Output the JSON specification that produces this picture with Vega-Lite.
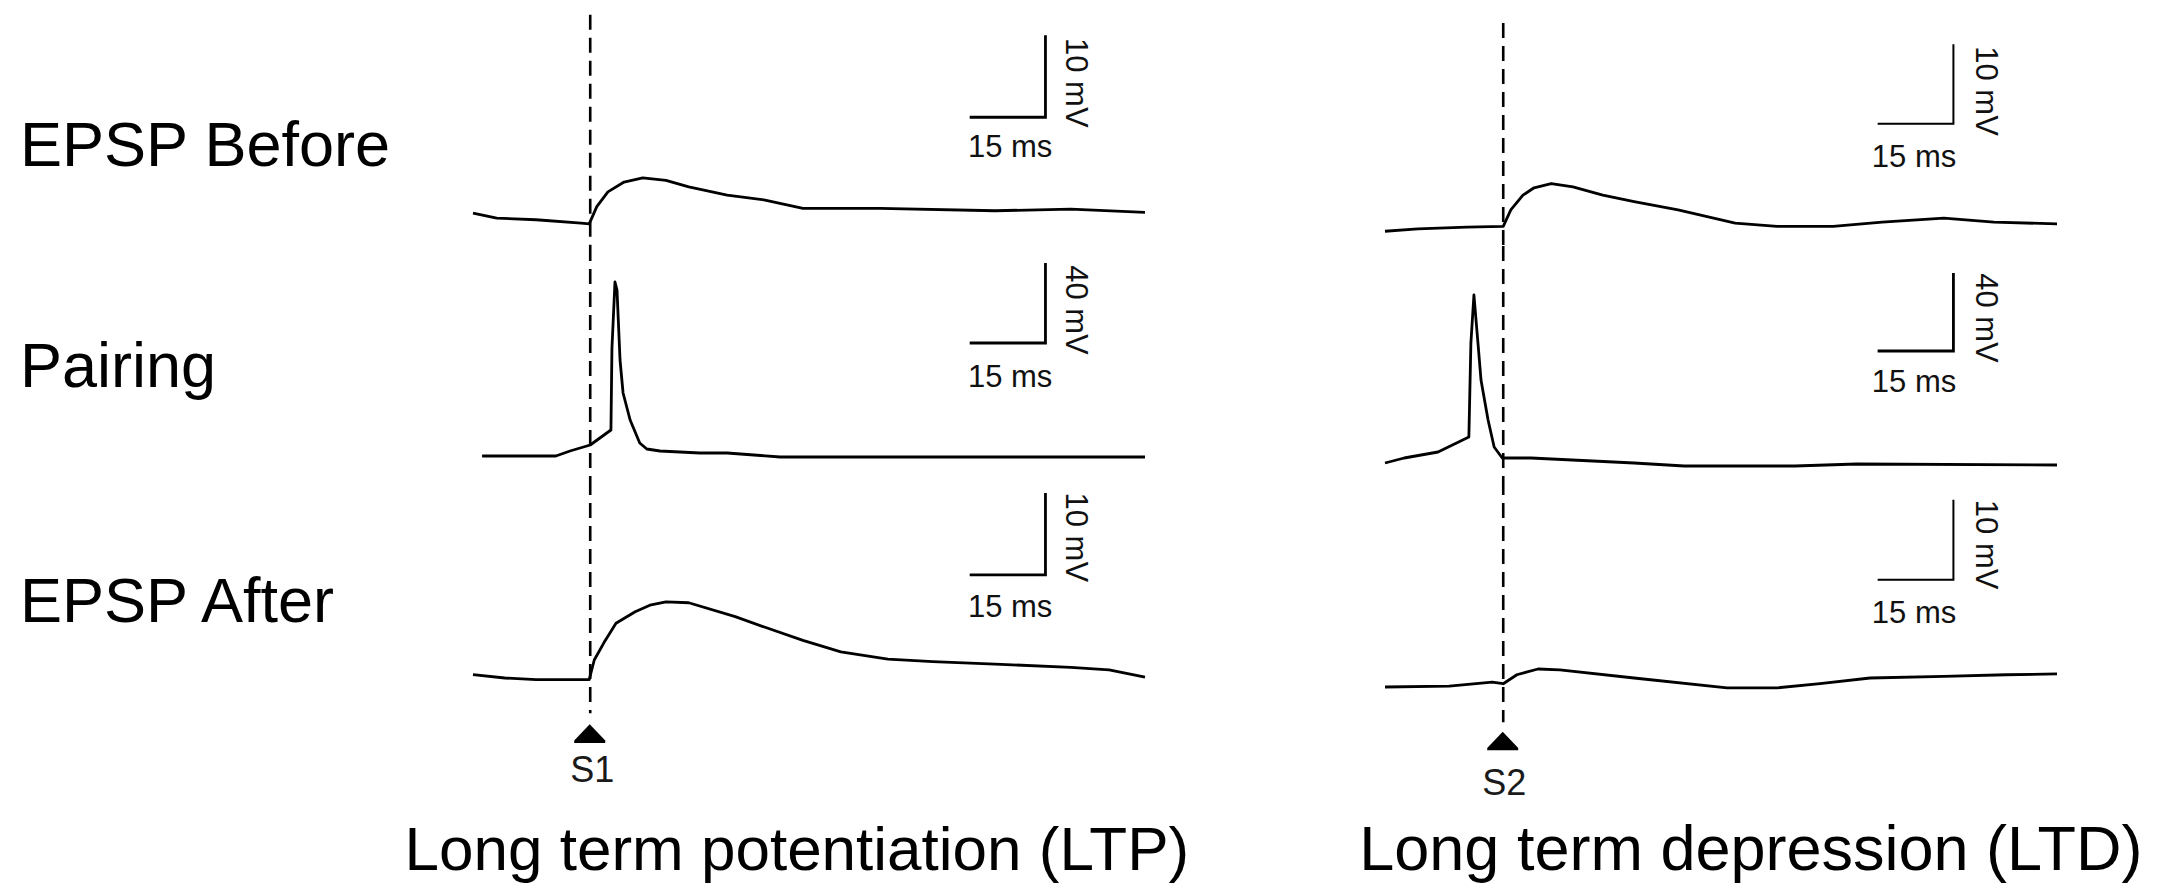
{
  "$schema": "https://vega.github.io/schema/vega-lite/v6.json",
  "background": "white",
  "autosize": {"type": "pad"},
  "padding": {"left": 20, "top": 0, "right": 109, "bottom": 137},
  "config": {"view": {"stroke": null}, "font": "Liberation Sans"},
  "datasets": {
    "rowlabels": [
      {"row": "Before", "label": "EPSP Before", "pos": 0, "v": -58.24},
      {"row": "Pairing", "label": "Pairing", "pos": 0, "v": -31.5},
      {"row": "After", "label": "EPSP After", "pos": 0, "v": -58.36}
    ],
    "titles": [
      {"cond": "LTP", "text": "Long term potentiation (LTP)", "t": 64.1, "v": -88.67},
      {"cond": "LTD", "text": "Long term depression (LTD)", "t": 72.4, "v": -88.67}
    ],
    "traces": [
      {"cond": "LTP", "row": "Before", "t": 0, "v": -64.0},
      {"cond": "LTP", "row": "Before", "t": 4.7, "v": -64.6},
      {"cond": "LTP", "row": "Before", "t": 12.5, "v": -64.8},
      {"cond": "LTP", "row": "Before", "t": 21.4, "v": -65.2},
      {"cond": "LTP", "row": "Before", "t": 23.0, "v": -65.3},
      {"cond": "LTP", "row": "Before", "t": 24.5, "v": -63.2},
      {"cond": "LTP", "row": "Before", "t": 26.7, "v": -61.4},
      {"cond": "LTP", "row": "Before", "t": 29.9, "v": -60.2},
      {"cond": "LTP", "row": "Before", "t": 33.6, "v": -59.7},
      {"cond": "LTP", "row": "Before", "t": 38.2, "v": -60.0},
      {"cond": "LTP", "row": "Before", "t": 42.7, "v": -60.8},
      {"cond": "LTP", "row": "Before", "t": 50.3, "v": -61.8},
      {"cond": "LTP", "row": "Before", "t": 57.8, "v": -62.4},
      {"cond": "LTP", "row": "Before", "t": 65.3, "v": -63.4},
      {"cond": "LTP", "row": "Before", "t": 80.5, "v": -63.4},
      {"cond": "LTP", "row": "Before", "t": 103.3, "v": -63.7},
      {"cond": "LTP", "row": "Before", "t": 118.3, "v": -63.5},
      {"cond": "LTP", "row": "Before", "t": 133, "v": -63.9},

      {"cond": "LTP", "row": "Pairing", "t": 1.8, "v": -66.0},
      {"cond": "LTP", "row": "Pairing", "t": 16.4, "v": -66.0},
      {"cond": "LTP", "row": "Pairing", "t": 19.2, "v": -63.5},
      {"cond": "LTP", "row": "Pairing", "t": 23.2, "v": -60.5},
      {"cond": "LTP", "row": "Pairing", "t": 27.3, "v": -53.0},
      {"cond": "LTP", "row": "Pairing", "t": 27.5, "v": -12.0},
      {"cond": "LTP", "row": "Pairing", "t": 28.1, "v": 21.0},
      {"cond": "LTP", "row": "Pairing", "t": 28.5, "v": 17.0},
      {"cond": "LTP", "row": "Pairing", "t": 29.1, "v": -18.0},
      {"cond": "LTP", "row": "Pairing", "t": 29.7, "v": -34.5},
      {"cond": "LTP", "row": "Pairing", "t": 31.1, "v": -48.0},
      {"cond": "LTP", "row": "Pairing", "t": 33.0, "v": -59.5},
      {"cond": "LTP", "row": "Pairing", "t": 34.4, "v": -62.5},
      {"cond": "LTP", "row": "Pairing", "t": 37.0, "v": -63.5},
      {"cond": "LTP", "row": "Pairing", "t": 44.9, "v": -64.5},
      {"cond": "LTP", "row": "Pairing", "t": 50.3, "v": -64.5},
      {"cond": "LTP", "row": "Pairing", "t": 60.8, "v": -66.5},
      {"cond": "LTP", "row": "Pairing", "t": 133, "v": -66.5},

      {"cond": "LTP", "row": "After", "t": 0, "v": -64.8},
      {"cond": "LTP", "row": "After", "t": 6.3, "v": -65.2},
      {"cond": "LTP", "row": "After", "t": 12.5, "v": -65.4},
      {"cond": "LTP", "row": "After", "t": 23.0, "v": -65.4},
      {"cond": "LTP", "row": "After", "t": 24.0, "v": -63.0},
      {"cond": "LTP", "row": "After", "t": 25.9, "v": -60.9},
      {"cond": "LTP", "row": "After", "t": 28.3, "v": -58.5},
      {"cond": "LTP", "row": "After", "t": 32.1, "v": -57.1},
      {"cond": "LTP", "row": "After", "t": 35.0, "v": -56.3},
      {"cond": "LTP", "row": "After", "t": 38.2, "v": -55.9},
      {"cond": "LTP", "row": "After", "t": 42.7, "v": -56.0},
      {"cond": "LTP", "row": "After", "t": 51.9, "v": -57.7},
      {"cond": "LTP", "row": "After", "t": 57.8, "v": -59.0},
      {"cond": "LTP", "row": "After", "t": 65.3, "v": -60.6},
      {"cond": "LTP", "row": "After", "t": 72.8, "v": -62.0},
      {"cond": "LTP", "row": "After", "t": 82.1, "v": -62.9},
      {"cond": "LTP", "row": "After", "t": 91.0, "v": -63.2},
      {"cond": "LTP", "row": "After", "t": 103.3, "v": -63.5},
      {"cond": "LTP", "row": "After", "t": 118.3, "v": -63.9},
      {"cond": "LTP", "row": "After", "t": 125.9, "v": -64.2},
      {"cond": "LTP", "row": "After", "t": 133, "v": -65.1},

      {"cond": "LTD", "row": "Before", "t": 0, "v": -66.2},
      {"cond": "LTD", "row": "Before", "t": 6.5, "v": -65.9},
      {"cond": "LTD", "row": "Before", "t": 16.2, "v": -65.7},
      {"cond": "LTD", "row": "Before", "t": 23.4, "v": -65.6},
      {"cond": "LTD", "row": "Before", "t": 24.9, "v": -63.6},
      {"cond": "LTD", "row": "Before", "t": 27.3, "v": -61.8},
      {"cond": "LTD", "row": "Before", "t": 29.5, "v": -60.9},
      {"cond": "LTD", "row": "Before", "t": 32.9, "v": -60.4},
      {"cond": "LTD", "row": "Before", "t": 37.2, "v": -60.8},
      {"cond": "LTD", "row": "Before", "t": 43.1, "v": -61.8},
      {"cond": "LTD", "row": "Before", "t": 49.3, "v": -62.6},
      {"cond": "LTD", "row": "Before", "t": 58.0, "v": -63.6},
      {"cond": "LTD", "row": "Before", "t": 69.3, "v": -65.2},
      {"cond": "LTD", "row": "Before", "t": 77.6, "v": -65.6},
      {"cond": "LTD", "row": "Before", "t": 88.7, "v": -65.6},
      {"cond": "LTD", "row": "Before", "t": 98.4, "v": -65.1},
      {"cond": "LTD", "row": "Before", "t": 110.6, "v": -64.6},
      {"cond": "LTD", "row": "Before", "t": 120.5, "v": -65.1},
      {"cond": "LTD", "row": "Before", "t": 133, "v": -65.3},

      {"cond": "LTD", "row": "Pairing", "t": 0, "v": -69.5},
      {"cond": "LTD", "row": "Pairing", "t": 3.8, "v": -67.0},
      {"cond": "LTD", "row": "Pairing", "t": 10.5, "v": -64.0},
      {"cond": "LTD", "row": "Pairing", "t": 16.6, "v": -56.5},
      {"cond": "LTD", "row": "Pairing", "t": 17.0, "v": -9.5},
      {"cond": "LTD", "row": "Pairing", "t": 17.6, "v": 14.5},
      {"cond": "LTD", "row": "Pairing", "t": 18.4, "v": -9.5},
      {"cond": "LTD", "row": "Pairing", "t": 19.0, "v": -28.0},
      {"cond": "LTD", "row": "Pairing", "t": 20.4, "v": -48.0},
      {"cond": "LTD", "row": "Pairing", "t": 21.6, "v": -61.5},
      {"cond": "LTD", "row": "Pairing", "t": 23.2, "v": -67.0},
      {"cond": "LTD", "row": "Pairing", "t": 28.9, "v": -67.0},
      {"cond": "LTD", "row": "Pairing", "t": 49.3, "v": -69.5},
      {"cond": "LTD", "row": "Pairing", "t": 59.2, "v": -71.0},
      {"cond": "LTD", "row": "Pairing", "t": 81.1, "v": -71.0},
      {"cond": "LTD", "row": "Pairing", "t": 93.4, "v": -70.0},
      {"cond": "LTD", "row": "Pairing", "t": 133, "v": -70.5},

      {"cond": "LTD", "row": "After", "t": 0, "v": -66.3},
      {"cond": "LTD", "row": "After", "t": 12.7, "v": -66.2},
      {"cond": "LTD", "row": "After", "t": 21.2, "v": -65.7},
      {"cond": "LTD", "row": "After", "t": 23.4, "v": -65.9},
      {"cond": "LTD", "row": "After", "t": 26.1, "v": -64.8},
      {"cond": "LTD", "row": "After", "t": 30.3, "v": -64.1},
      {"cond": "LTD", "row": "After", "t": 34.6, "v": -64.2},
      {"cond": "LTD", "row": "After", "t": 49.3, "v": -65.2},
      {"cond": "LTD", "row": "After", "t": 67.7, "v": -66.4},
      {"cond": "LTD", "row": "After", "t": 77.6, "v": -66.4},
      {"cond": "LTD", "row": "After", "t": 86.1, "v": -65.9},
      {"cond": "LTD", "row": "After", "t": 96.0, "v": -65.2},
      {"cond": "LTD", "row": "After", "t": 110.6, "v": -65.0},
      {"cond": "LTD", "row": "After", "t": 122.9, "v": -64.8},
      {"cond": "LTD", "row": "After", "t": 133, "v": -64.7}
    ],
    "bars": [
      {"cond": "LTP", "row": "Before", "i": 1, "t": 98.3, "v": -52.3},
      {"cond": "LTP", "row": "Before", "i": 2, "t": 113.3, "v": -52.3},
      {"cond": "LTP", "row": "Before", "i": 3, "t": 113.3, "v": -42.3},
      {"cond": "LTP", "row": "Pairing", "i": 1, "t": 98.3, "v": -9.5},
      {"cond": "LTP", "row": "Pairing", "i": 2, "t": 113.3, "v": -9.5},
      {"cond": "LTP", "row": "Pairing", "i": 3, "t": 113.3, "v": 30.5},
      {"cond": "LTP", "row": "After", "i": 1, "t": 98.3, "v": -52.6},
      {"cond": "LTP", "row": "After", "i": 2, "t": 113.3, "v": -52.6},
      {"cond": "LTP", "row": "After", "i": 3, "t": 113.3, "v": -42.6},
      {"cond": "LTD", "row": "Before", "i": 1, "t": 97.5, "v": -53.1},
      {"cond": "LTD", "row": "Before", "i": 2, "t": 112.5, "v": -53.1},
      {"cond": "LTD", "row": "Before", "i": 3, "t": 112.5, "v": -43.4},
      {"cond": "LTD", "row": "Pairing", "i": 1, "t": 97.5, "v": -13.5},
      {"cond": "LTD", "row": "Pairing", "i": 2, "t": 112.5, "v": -13.5},
      {"cond": "LTD", "row": "Pairing", "i": 3, "t": 112.5, "v": 25.5},
      {"cond": "LTD", "row": "After", "i": 1, "t": 97.5, "v": -53.2},
      {"cond": "LTD", "row": "After", "i": 2, "t": 112.5, "v": -53.2},
      {"cond": "LTD", "row": "After", "i": 3, "t": 112.5, "v": -43.4}
    ],
    "notes": [
      {"cond": "LTP", "row": "Before", "kind": "mV", "text": "10 mV", "t": 119.1, "v": -48.1},
      {"cond": "LTP", "row": "Before", "kind": "ms", "text": "15 ms", "t": 106.3, "v": -57.1},
      {"cond": "LTP", "row": "Pairing", "kind": "mV", "text": "40 mV", "t": 119.1, "v": 7.0},
      {"cond": "LTP", "row": "Pairing", "kind": "ms", "text": "15 ms", "t": 106.3, "v": -31.5},
      {"cond": "LTP", "row": "After", "kind": "mV", "text": "10 mV", "t": 119.1, "v": -48.0},
      {"cond": "LTP", "row": "After", "kind": "ms", "text": "15 ms", "t": 106.3, "v": -57.7},
      {"cond": "LTD", "row": "Before", "kind": "mV", "text": "10 mV", "t": 118.7, "v": -49.1},
      {"cond": "LTD", "row": "Before", "kind": "ms", "text": "15 ms", "t": 104.7, "v": -58.4},
      {"cond": "LTD", "row": "Pairing", "kind": "mV", "text": "40 mV", "t": 118.7, "v": 3.0},
      {"cond": "LTD", "row": "Pairing", "kind": "ms", "text": "15 ms", "t": 104.7, "v": -34.0},
      {"cond": "LTD", "row": "After", "kind": "mV", "text": "10 mV", "t": 118.7, "v": -48.9},
      {"cond": "LTD", "row": "After", "kind": "ms", "text": "15 ms", "t": 104.7, "v": -58.5}
    ],
    "dash": [
      {"cond": "LTP", "row": "Before", "t": 23.2, "top": -39.8, "bottom": -68},
      {"cond": "LTP", "row": "Pairing", "t": 23.2, "top": 39, "bottom": -78},
      {"cond": "LTP", "row": "After", "t": 23.2, "top": -41, "bottom": -69.5},
      {"cond": "LTD", "row": "Before", "t": 23.4, "top": -40.8, "bottom": -68},
      {"cond": "LTD", "row": "Pairing", "t": 23.4, "top": 39, "bottom": -78},
      {"cond": "LTD", "row": "After", "t": 23.4, "top": -41, "bottom": -70.6}
    ],
    "stim": [
      {"cond": "LTP", "label": "S1", "t": 23.1, "v": -72.0, "lt": 23.6, "lv": -77.9},
      {"cond": "LTD", "label": "S2", "t": 23.3, "v": -72.9, "lt": 23.6, "lv": -79.5}
    ]
  },
  "bounds": "flush",
  "columns": 3,
  "spacing": {"row": 0, "column": 240},
  "concat": [
    {
      "width": 213, "height": 246,
      "data": {"name": "rowlabels"}, "transform": [{"filter": "datum.row === 'Before'"}],
      "mark": {"type": "text", "align": "left", "baseline": "alphabetic", "fontSize": 63, "font": "Liberation Sans", "color": "#000"},
      "encoding": {
        "x": {"field": "pos", "type": "quantitative", "scale": {"domain": [0, 1], "nice": false, "zero": false}, "axis": null},
        "y": {"field": "v", "type": "quantitative", "scale": {"domain": [-68, -38], "nice": false, "zero": false}, "axis": null},
        "text": {"field": "label"}
      }
    },
    {
      "width": 672, "height": 246,
      "layer": [
        {"data": {"name": "traces"}, "transform": [{"filter": "datum.cond === 'LTP' && datum.row === 'Before'"}],
         "mark": {"type": "line", "color": "#000", "strokeWidth": 2.8, "strokeJoin": "round"},
         "encoding": {
           "x": {"field": "t", "type": "quantitative", "scale": {"domain": [0, 133], "nice": false, "zero": false}, "axis": null},
           "y": {"field": "v", "type": "quantitative", "scale": {"domain": [-68, -38], "nice": false, "zero": false}, "axis": null}}},
        {"data": {"name": "dash"}, "transform": [{"filter": "datum.cond === 'LTP' && datum.row === 'Before'"}],
         "mark": {"type": "rule", "color": "#000", "strokeWidth": 2.6, "strokeDash": [15, 8]},
         "encoding": {"x": {"field": "t", "type": "quantitative", "scale": {"domain": [0, 133], "nice": false, "zero": false}, "axis": null},
                      "y": {"field": "top", "type": "quantitative", "scale": {"domain": [-68, -38], "nice": false, "zero": false}, "axis": null},
                      "y2": {"field": "bottom"}}},
        {"data": {"name": "bars"}, "transform": [{"filter": "datum.cond === 'LTP' && datum.row === 'Before'"}],
         "mark": {"type": "line", "color": "#000", "strokeWidth": 2.8},
         "encoding": {"x": {"field": "t", "type": "quantitative", "scale": {"domain": [0, 133], "nice": false, "zero": false}, "axis": null},
                      "y": {"field": "v", "type": "quantitative", "scale": {"domain": [-68, -38], "nice": false, "zero": false}, "axis": null},
                      "order": {"field": "i"}}},
        {"data": {"name": "notes"}, "transform": [{"filter": "datum.cond === 'LTP' && datum.row === 'Before' && datum.kind === 'mV'"}],
         "mark": {"type": "text", "angle": 90, "align": "center", "baseline": "middle", "fontSize": 31, "font": "Liberation Sans", "color": "#111"},
         "encoding": {"x": {"field": "t", "type": "quantitative", "scale": {"domain": [0, 133], "nice": false, "zero": false}, "axis": null},
                      "y": {"field": "v", "type": "quantitative", "scale": {"domain": [-68, -38], "nice": false, "zero": false}, "axis": null},
                      "text": {"field": "text"}}},
        {"data": {"name": "notes"}, "transform": [{"filter": "datum.cond === 'LTP' && datum.row === 'Before' && datum.kind === 'ms'"}],
         "mark": {"type": "text", "align": "center", "baseline": "alphabetic", "fontSize": 31, "font": "Liberation Sans", "color": "#111"},
         "encoding": {"x": {"field": "t", "type": "quantitative", "scale": {"domain": [0, 133], "nice": false, "zero": false}, "axis": null},
                      "y": {"field": "v", "type": "quantitative", "scale": {"domain": [-68, -38], "nice": false, "zero": false}, "axis": null},
                      "text": {"field": "text"}}}
      ]
    },
    {
      "width": 672, "height": 246,
      "layer": [
        {"data": {"name": "traces"}, "transform": [{"filter": "datum.cond === 'LTD' && datum.row === 'Before'"}],
         "mark": {"type": "line", "color": "#000", "strokeWidth": 2.8, "strokeJoin": "round"},
         "encoding": {
           "x": {"field": "t", "type": "quantitative", "scale": {"domain": [0, 133], "nice": false, "zero": false}, "axis": null},
           "y": {"field": "v", "type": "quantitative", "scale": {"domain": [-68, -38], "nice": false, "zero": false}, "axis": null}}},
        {"data": {"name": "dash"}, "transform": [{"filter": "datum.cond === 'LTD' && datum.row === 'Before'"}],
         "mark": {"type": "rule", "color": "#000", "strokeWidth": 2.6, "strokeDash": [15, 8]},
         "encoding": {"x": {"field": "t", "type": "quantitative", "scale": {"domain": [0, 133], "nice": false, "zero": false}, "axis": null},
                      "y": {"field": "top", "type": "quantitative", "scale": {"domain": [-68, -38], "nice": false, "zero": false}, "axis": null},
                      "y2": {"field": "bottom"}}},
        {"data": {"name": "bars"}, "transform": [{"filter": "datum.cond === 'LTD' && datum.row === 'Before'"}],
         "mark": {"type": "line", "color": "#000", "strokeWidth": 2},
         "encoding": {"x": {"field": "t", "type": "quantitative", "scale": {"domain": [0, 133], "nice": false, "zero": false}, "axis": null},
                      "y": {"field": "v", "type": "quantitative", "scale": {"domain": [-68, -38], "nice": false, "zero": false}, "axis": null},
                      "order": {"field": "i"}}},
        {"data": {"name": "notes"}, "transform": [{"filter": "datum.cond === 'LTD' && datum.row === 'Before' && datum.kind === 'mV'"}],
         "mark": {"type": "text", "angle": 90, "align": "center", "baseline": "middle", "fontSize": 31, "font": "Liberation Sans", "color": "#111"},
         "encoding": {"x": {"field": "t", "type": "quantitative", "scale": {"domain": [0, 133], "nice": false, "zero": false}, "axis": null},
                      "y": {"field": "v", "type": "quantitative", "scale": {"domain": [-68, -38], "nice": false, "zero": false}, "axis": null},
                      "text": {"field": "text"}}},
        {"data": {"name": "notes"}, "transform": [{"filter": "datum.cond === 'LTD' && datum.row === 'Before' && datum.kind === 'ms'"}],
         "mark": {"type": "text", "align": "center", "baseline": "alphabetic", "fontSize": 31, "font": "Liberation Sans", "color": "#111"},
         "encoding": {"x": {"field": "t", "type": "quantitative", "scale": {"domain": [0, 133], "nice": false, "zero": false}, "axis": null},
                      "y": {"field": "v", "type": "quantitative", "scale": {"domain": [-68, -38], "nice": false, "zero": false}, "axis": null},
                      "text": {"field": "text"}}}
      ]
    },
    {
      "width": 213, "height": 234,
      "data": {"name": "rowlabels"}, "transform": [{"filter": "datum.row === 'Pairing'"}],
      "mark": {"type": "text", "align": "left", "baseline": "alphabetic", "fontSize": 63, "font": "Liberation Sans", "color": "#000"},
      "encoding": {
        "x": {"field": "pos", "type": "quantitative", "scale": {"domain": [0, 1], "nice": false, "zero": false}, "axis": null},
        "y": {"field": "v", "type": "quantitative", "scale": {"domain": [-78, 39], "nice": false, "zero": false}, "axis": null},
        "text": {"field": "label"}
      }
    },
    {
      "width": 672, "height": 234,
      "layer": [
        {"data": {"name": "traces"}, "transform": [{"filter": "datum.cond === 'LTP' && datum.row === 'Pairing'"}],
         "mark": {"type": "line", "color": "#000", "strokeWidth": 2.8, "strokeJoin": "round"},
         "encoding": {
           "x": {"field": "t", "type": "quantitative", "scale": {"domain": [0, 133], "nice": false, "zero": false}, "axis": null},
           "y": {"field": "v", "type": "quantitative", "scale": {"domain": [-78, 39], "nice": false, "zero": false}, "axis": null}}},
        {"data": {"name": "dash"}, "transform": [{"filter": "datum.cond === 'LTP' && datum.row === 'Pairing'"}],
         "mark": {"type": "rule", "color": "#000", "strokeWidth": 2.6, "strokeDash": [15, 8]},
         "encoding": {"x": {"field": "t", "type": "quantitative", "scale": {"domain": [0, 133], "nice": false, "zero": false}, "axis": null},
                      "y": {"field": "top", "type": "quantitative", "scale": {"domain": [-78, 39], "nice": false, "zero": false}, "axis": null},
                      "y2": {"field": "bottom"}}},
        {"data": {"name": "bars"}, "transform": [{"filter": "datum.cond === 'LTP' && datum.row === 'Pairing'"}],
         "mark": {"type": "line", "color": "#000", "strokeWidth": 2.8},
         "encoding": {"x": {"field": "t", "type": "quantitative", "scale": {"domain": [0, 133], "nice": false, "zero": false}, "axis": null},
                      "y": {"field": "v", "type": "quantitative", "scale": {"domain": [-78, 39], "nice": false, "zero": false}, "axis": null},
                      "order": {"field": "i"}}},
        {"data": {"name": "notes"}, "transform": [{"filter": "datum.cond === 'LTP' && datum.row === 'Pairing' && datum.kind === 'mV'"}],
         "mark": {"type": "text", "angle": 90, "align": "center", "baseline": "middle", "fontSize": 31, "font": "Liberation Sans", "color": "#111"},
         "encoding": {"x": {"field": "t", "type": "quantitative", "scale": {"domain": [0, 133], "nice": false, "zero": false}, "axis": null},
                      "y": {"field": "v", "type": "quantitative", "scale": {"domain": [-78, 39], "nice": false, "zero": false}, "axis": null},
                      "text": {"field": "text"}}},
        {"data": {"name": "notes"}, "transform": [{"filter": "datum.cond === 'LTP' && datum.row === 'Pairing' && datum.kind === 'ms'"}],
         "mark": {"type": "text", "align": "center", "baseline": "alphabetic", "fontSize": 31, "font": "Liberation Sans", "color": "#111"},
         "encoding": {"x": {"field": "t", "type": "quantitative", "scale": {"domain": [0, 133], "nice": false, "zero": false}, "axis": null},
                      "y": {"field": "v", "type": "quantitative", "scale": {"domain": [-78, 39], "nice": false, "zero": false}, "axis": null},
                      "text": {"field": "text"}}}
      ]
    },
    {
      "width": 672, "height": 234,
      "layer": [
        {"data": {"name": "traces"}, "transform": [{"filter": "datum.cond === 'LTD' && datum.row === 'Pairing'"}],
         "mark": {"type": "line", "color": "#000", "strokeWidth": 2.8, "strokeJoin": "round"},
         "encoding": {
           "x": {"field": "t", "type": "quantitative", "scale": {"domain": [0, 133], "nice": false, "zero": false}, "axis": null},
           "y": {"field": "v", "type": "quantitative", "scale": {"domain": [-78, 39], "nice": false, "zero": false}, "axis": null}}},
        {"data": {"name": "dash"}, "transform": [{"filter": "datum.cond === 'LTD' && datum.row === 'Pairing'"}],
         "mark": {"type": "rule", "color": "#000", "strokeWidth": 2.6, "strokeDash": [15, 8]},
         "encoding": {"x": {"field": "t", "type": "quantitative", "scale": {"domain": [0, 133], "nice": false, "zero": false}, "axis": null},
                      "y": {"field": "top", "type": "quantitative", "scale": {"domain": [-78, 39], "nice": false, "zero": false}, "axis": null},
                      "y2": {"field": "bottom"}}},
        {"data": {"name": "bars"}, "transform": [{"filter": "datum.cond === 'LTD' && datum.row === 'Pairing'"}],
         "mark": {"type": "line", "color": "#000", "strokeWidth": 2.8},
         "encoding": {"x": {"field": "t", "type": "quantitative", "scale": {"domain": [0, 133], "nice": false, "zero": false}, "axis": null},
                      "y": {"field": "v", "type": "quantitative", "scale": {"domain": [-78, 39], "nice": false, "zero": false}, "axis": null},
                      "order": {"field": "i"}}},
        {"data": {"name": "notes"}, "transform": [{"filter": "datum.cond === 'LTD' && datum.row === 'Pairing' && datum.kind === 'mV'"}],
         "mark": {"type": "text", "angle": 90, "align": "center", "baseline": "middle", "fontSize": 31, "font": "Liberation Sans", "color": "#111"},
         "encoding": {"x": {"field": "t", "type": "quantitative", "scale": {"domain": [0, 133], "nice": false, "zero": false}, "axis": null},
                      "y": {"field": "v", "type": "quantitative", "scale": {"domain": [-78, 39], "nice": false, "zero": false}, "axis": null},
                      "text": {"field": "text"}}},
        {"data": {"name": "notes"}, "transform": [{"filter": "datum.cond === 'LTD' && datum.row === 'Pairing' && datum.kind === 'ms'"}],
         "mark": {"type": "text", "align": "center", "baseline": "alphabetic", "fontSize": 31, "font": "Liberation Sans", "color": "#111"},
         "encoding": {"x": {"field": "t", "type": "quantitative", "scale": {"domain": [0, 133], "nice": false, "zero": false}, "axis": null},
                      "y": {"field": "v", "type": "quantitative", "scale": {"domain": [-78, 39], "nice": false, "zero": false}, "axis": null},
                      "text": {"field": "text"}}}
      ]
    },
    {
      "width": 213, "height": 270,
      "data": {"name": "rowlabels"}, "transform": [{"filter": "datum.row === 'After'"}],
      "mark": {"type": "text", "align": "left", "baseline": "alphabetic", "fontSize": 63, "font": "Liberation Sans", "color": "#000"},
      "encoding": {
        "x": {"field": "pos", "type": "quantitative", "scale": {"domain": [0, 1], "nice": false, "zero": false}, "axis": null},
        "y": {"field": "v", "type": "quantitative", "scale": {"domain": [-74, -41], "nice": false, "zero": false}, "axis": null},
        "text": {"field": "label"}
      }
    },
    {
      "width": 672, "height": 270,
      "layer": [
        {"data": {"name": "traces"}, "transform": [{"filter": "datum.cond === 'LTP' && datum.row === 'After'"}],
         "mark": {"type": "line", "color": "#000", "strokeWidth": 2.8, "strokeJoin": "round"},
         "encoding": {
           "x": {"field": "t", "type": "quantitative", "scale": {"domain": [0, 133], "nice": false, "zero": false}, "axis": null},
           "y": {"field": "v", "type": "quantitative", "scale": {"domain": [-74, -41], "nice": false, "zero": false}, "axis": null}}},
        {"data": {"name": "dash"}, "transform": [{"filter": "datum.cond === 'LTP' && datum.row === 'After'"}],
         "mark": {"type": "rule", "color": "#000", "strokeWidth": 2.6, "strokeDash": [15, 8]},
         "encoding": {"x": {"field": "t", "type": "quantitative", "scale": {"domain": [0, 133], "nice": false, "zero": false}, "axis": null},
                      "y": {"field": "top", "type": "quantitative", "scale": {"domain": [-74, -41], "nice": false, "zero": false}, "axis": null},
                      "y2": {"field": "bottom"}}},
        {"data": {"name": "bars"}, "transform": [{"filter": "datum.cond === 'LTP' && datum.row === 'After'"}],
         "mark": {"type": "line", "color": "#000", "strokeWidth": 2.8},
         "encoding": {"x": {"field": "t", "type": "quantitative", "scale": {"domain": [0, 133], "nice": false, "zero": false}, "axis": null},
                      "y": {"field": "v", "type": "quantitative", "scale": {"domain": [-74, -41], "nice": false, "zero": false}, "axis": null},
                      "order": {"field": "i"}}},
        {"data": {"name": "notes"}, "transform": [{"filter": "datum.cond === 'LTP' && datum.row === 'After' && datum.kind === 'mV'"}],
         "mark": {"type": "text", "angle": 90, "align": "center", "baseline": "middle", "fontSize": 31, "font": "Liberation Sans", "color": "#111"},
         "encoding": {"x": {"field": "t", "type": "quantitative", "scale": {"domain": [0, 133], "nice": false, "zero": false}, "axis": null},
                      "y": {"field": "v", "type": "quantitative", "scale": {"domain": [-74, -41], "nice": false, "zero": false}, "axis": null},
                      "text": {"field": "text"}}},
        {"data": {"name": "notes"}, "transform": [{"filter": "datum.cond === 'LTP' && datum.row === 'After' && datum.kind === 'ms'"}],
         "mark": {"type": "text", "align": "center", "baseline": "alphabetic", "fontSize": 31, "font": "Liberation Sans", "color": "#111"},
         "encoding": {"x": {"field": "t", "type": "quantitative", "scale": {"domain": [0, 133], "nice": false, "zero": false}, "axis": null},
                      "y": {"field": "v", "type": "quantitative", "scale": {"domain": [-74, -41], "nice": false, "zero": false}, "axis": null},
                      "text": {"field": "text"}}},
        {"data": {"name": "stim"}, "transform": [{"filter": "datum.cond === 'LTP'"}],
         "mark": {"type": "point", "shape": "M0,-0.6L1,0.45L1,0.6L-1,0.6L-1,0.45Z", "size": 961, "filled": true, "color": "#000", "opacity": 1},
         "encoding": {"x": {"field": "t", "type": "quantitative", "scale": {"domain": [0, 133], "nice": false, "zero": false}, "axis": null},
                      "y": {"field": "v", "type": "quantitative", "scale": {"domain": [-74, -41], "nice": false, "zero": false}, "axis": null}}},
        {"data": {"name": "stim"}, "transform": [{"filter": "datum.cond === 'LTP'"}],
         "mark": {"type": "text", "align": "center", "baseline": "alphabetic", "fontSize": 36, "font": "Liberation Sans", "color": "#1a1a1a"},
         "encoding": {"x": {"field": "lt", "type": "quantitative", "scale": {"domain": [0, 133], "nice": false, "zero": false}, "axis": null},
                      "y": {"field": "lv", "type": "quantitative", "scale": {"domain": [-74, -41], "nice": false, "zero": false}, "axis": null},
                      "text": {"field": "label"}}},
        {"data": {"name": "titles"}, "transform": [{"filter": "datum.cond === 'LTP'"}],
         "mark": {"type": "text", "align": "center", "baseline": "alphabetic", "fontSize": 62, "font": "Liberation Sans", "color": "#000"},
         "encoding": {"x": {"field": "t", "type": "quantitative", "scale": {"domain": [0, 133], "nice": false, "zero": false}, "axis": null},
                      "y": {"field": "v", "type": "quantitative", "scale": {"domain": [-74, -41], "nice": false, "zero": false}, "axis": null},
                      "text": {"field": "text"}}}
      ]
    },
    {
      "width": 672, "height": 270,
      "layer": [
        {"data": {"name": "traces"}, "transform": [{"filter": "datum.cond === 'LTD' && datum.row === 'After'"}],
         "mark": {"type": "line", "color": "#000", "strokeWidth": 2.8, "strokeJoin": "round"},
         "encoding": {
           "x": {"field": "t", "type": "quantitative", "scale": {"domain": [0, 133], "nice": false, "zero": false}, "axis": null},
           "y": {"field": "v", "type": "quantitative", "scale": {"domain": [-74, -41], "nice": false, "zero": false}, "axis": null}}},
        {"data": {"name": "dash"}, "transform": [{"filter": "datum.cond === 'LTD' && datum.row === 'After'"}],
         "mark": {"type": "rule", "color": "#000", "strokeWidth": 2.6, "strokeDash": [15, 8]},
         "encoding": {"x": {"field": "t", "type": "quantitative", "scale": {"domain": [0, 133], "nice": false, "zero": false}, "axis": null},
                      "y": {"field": "top", "type": "quantitative", "scale": {"domain": [-74, -41], "nice": false, "zero": false}, "axis": null},
                      "y2": {"field": "bottom"}}},
        {"data": {"name": "bars"}, "transform": [{"filter": "datum.cond === 'LTD' && datum.row === 'After'"}],
         "mark": {"type": "line", "color": "#000", "strokeWidth": 2},
         "encoding": {"x": {"field": "t", "type": "quantitative", "scale": {"domain": [0, 133], "nice": false, "zero": false}, "axis": null},
                      "y": {"field": "v", "type": "quantitative", "scale": {"domain": [-74, -41], "nice": false, "zero": false}, "axis": null},
                      "order": {"field": "i"}}},
        {"data": {"name": "notes"}, "transform": [{"filter": "datum.cond === 'LTD' && datum.row === 'After' && datum.kind === 'mV'"}],
         "mark": {"type": "text", "angle": 90, "align": "center", "baseline": "middle", "fontSize": 31, "font": "Liberation Sans", "color": "#111"},
         "encoding": {"x": {"field": "t", "type": "quantitative", "scale": {"domain": [0, 133], "nice": false, "zero": false}, "axis": null},
                      "y": {"field": "v", "type": "quantitative", "scale": {"domain": [-74, -41], "nice": false, "zero": false}, "axis": null},
                      "text": {"field": "text"}}},
        {"data": {"name": "notes"}, "transform": [{"filter": "datum.cond === 'LTD' && datum.row === 'After' && datum.kind === 'ms'"}],
         "mark": {"type": "text", "align": "center", "baseline": "alphabetic", "fontSize": 31, "font": "Liberation Sans", "color": "#111"},
         "encoding": {"x": {"field": "t", "type": "quantitative", "scale": {"domain": [0, 133], "nice": false, "zero": false}, "axis": null},
                      "y": {"field": "v", "type": "quantitative", "scale": {"domain": [-74, -41], "nice": false, "zero": false}, "axis": null},
                      "text": {"field": "text"}}},
        {"data": {"name": "stim"}, "transform": [{"filter": "datum.cond === 'LTD'"}],
         "mark": {"type": "point", "shape": "M0,-0.6L1,0.45L1,0.6L-1,0.6L-1,0.45Z", "size": 961, "filled": true, "color": "#000", "opacity": 1},
         "encoding": {"x": {"field": "t", "type": "quantitative", "scale": {"domain": [0, 133], "nice": false, "zero": false}, "axis": null},
                      "y": {"field": "v", "type": "quantitative", "scale": {"domain": [-74, -41], "nice": false, "zero": false}, "axis": null}}},
        {"data": {"name": "stim"}, "transform": [{"filter": "datum.cond === 'LTD'"}],
         "mark": {"type": "text", "align": "center", "baseline": "alphabetic", "fontSize": 36, "font": "Liberation Sans", "color": "#1a1a1a"},
         "encoding": {"x": {"field": "lt", "type": "quantitative", "scale": {"domain": [0, 133], "nice": false, "zero": false}, "axis": null},
                      "y": {"field": "lv", "type": "quantitative", "scale": {"domain": [-74, -41], "nice": false, "zero": false}, "axis": null},
                      "text": {"field": "label"}}},
        {"data": {"name": "titles"}, "transform": [{"filter": "datum.cond === 'LTD'"}],
         "mark": {"type": "text", "align": "center", "baseline": "alphabetic", "fontSize": 63, "font": "Liberation Sans", "color": "#000"},
         "encoding": {"x": {"field": "t", "type": "quantitative", "scale": {"domain": [0, 133], "nice": false, "zero": false}, "axis": null},
                      "y": {"field": "v", "type": "quantitative", "scale": {"domain": [-74, -41], "nice": false, "zero": false}, "axis": null},
                      "text": {"field": "text"}}}
      ]
    }
  ]
}
